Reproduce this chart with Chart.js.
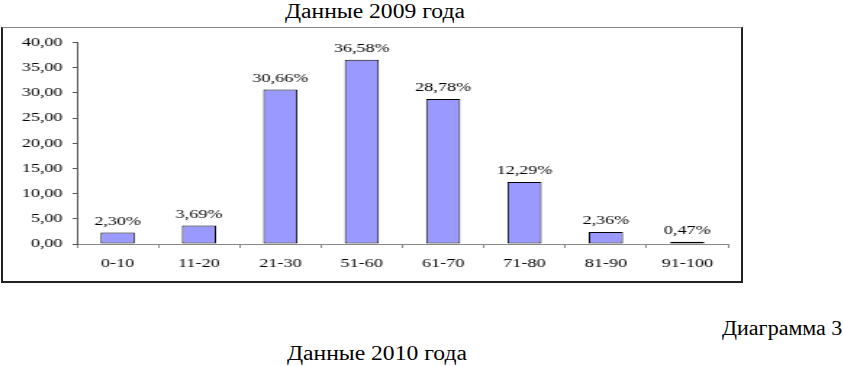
<!DOCTYPE html>
<html><head><meta charset="utf-8">
<script src="https://cdn.jsdelivr.net/npm/chart.js@4/dist/chart.umd.min.js"></script>
<style>
html,body{margin:0;padding:0;background:#fff;width:843px;height:366px;overflow:hidden;position:relative;}
.t{position:absolute;font-family:"Liberation Serif","Times New Roman",serif;font-size:20px;line-height:20px;color:#000;white-space:nowrap;}
#box{position:absolute;left:1px;top:27px;width:738px;height:253px;border-top:1px solid #888;border-left:2px solid #222;border-right:2px solid #222;border-bottom:2px solid #222;background:#fff;overflow:hidden;}
#c{display:block !important;width:738px !important;height:253px !important;}
</style></head><body>
<div class="t" id="t1" style="left:285px;top:1px;transform:scaleX(1.18);transform-origin:0 0;">Данные 2009 года</div>
<div id="box"><canvas id="c" width="509" height="253"></canvas></div>
<div class="t" id="t2" style="right:1px;top:318px;transform:scaleX(1.1);transform-origin:100% 0;">Диаграмма 3</div>
<div class="t" id="t3" style="left:287px;top:343px;transform:scaleX(1.18);transform-origin:0 0;">Данные 2010 года</div>
<script>
const categories = ["0-10","11-20","21-30","51-60","61-70","71-80","81-90","91-100"];
const values2009 = [2.30, 3.69, 30.66, 36.58, 28.78, 12.29, 2.36, 0.47];
const yTicks = [0,5,10,15,20,25,30,35,40];

function fmt(v){ return v.toFixed(2).replace('.', ','); }
const FONT = {family:"'Liberation Serif', 'Times New Roman', serif", size:12.5};

const labelPlugin = {
  id:'vlabels',
  afterDatasetsDraw(chart){
    const ctx = chart.ctx;
    const meta = chart.getDatasetMeta(0);
    ctx.save();
    ctx.font = FONT.size + "px " + FONT.family;
    ctx.fillStyle = '#000';
    ctx.textAlign = 'center';
    ctx.textBaseline = 'middle';
    meta.data.forEach((bar, i) => {
      ctx.fillText(fmt(values2009[i]) + '%', bar.x, bar.y - 11);
    });
    ctx.restore();
  }
};

new Chart(document.getElementById('c'), {
  type:'bar',
  data:{ labels:categories, datasets:[{ data:values2009, backgroundColor:'#9999FF', borderColor:'#000', borderWidth:1, borderSkipped:false, categoryPercentage:1, barPercentage:0.42 }]},
  options:{
    responsive:false, animation:false, devicePixelRatio:1,
    layout:{ padding:{ top:14, right:9, bottom:0, left:0 } },
    plugins:{ legend:{display:false}, tooltip:{enabled:false}, title:{display:false} },
    scales:{
      x:{
        offset:true,
        grid:{ display:true, offset:true, drawOnChartArea:false, drawTicks:true, tickLength:4, color:'#888' },
        border:{ display:true, color:'#888' },
        ticks:{ color:'#000', font:FONT, padding:8, maxRotation:0 },
        afterFit(s){ s.height = 37; }
      },
      y:{
        min:0, max:40,
        afterBuildTicks(s){ s.ticks = yTicks.map(v => ({value:v})); },
        grid:{ display:true, drawOnChartArea:false, drawTicks:true, tickLength:3, color:'#555' },
        border:{ display:true, color:'#555' },
        ticks:{ color:'#000', font:FONT, padding:7, callback:v => fmt(v) },
        afterFit(s){ s.width = 51; }
      }
    }
  },
  plugins:[labelPlugin]
});
</script>
</body></html>
